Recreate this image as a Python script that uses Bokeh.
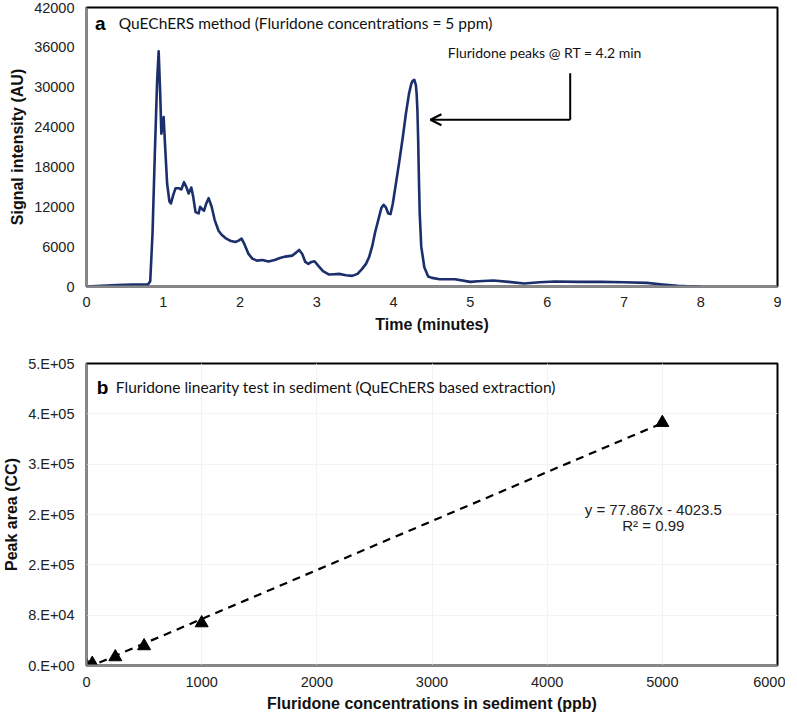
from bokeh.plotting import figure
from bokeh.layouts import column
from bokeh.models import Range1d, FixedTicker, Label, Arrow, OpenHead
from bokeh.embed import file_html
from bokeh.resources import INLINE

# ---------------- data: chromatogram (panel a) ----------------
time_min = [0.0, 0.2, 0.4, 0.6, 0.8, 0.83, 0.86, 0.89, 0.92, 0.94, 0.96, 0.975, 0.99, 1.005,
            1.02, 1.05, 1.08, 1.10, 1.13, 1.16, 1.20, 1.235, 1.27, 1.30, 1.33, 1.365, 1.39,
            1.42, 1.46, 1.48, 1.51, 1.53, 1.56, 1.59, 1.63, 1.67, 1.72, 1.76, 1.81, 1.87,
            1.94, 1.98, 2.02, 2.06, 2.11, 2.16, 2.22, 2.29, 2.37, 2.45, 2.52, 2.59, 2.68,
            2.73, 2.77, 2.81, 2.85, 2.89, 2.93, 2.97, 3.02, 3.08, 3.16, 3.22, 3.29, 3.38,
            3.46, 3.53, 3.59, 3.64, 3.68, 3.72, 3.76, 3.80, 3.84, 3.87, 3.90, 3.93, 3.96,
            3.99, 4.03, 4.07, 4.12, 4.16, 4.20, 4.23, 4.25, 4.27, 4.29, 4.30, 4.31, 4.32,
            4.33, 4.34, 4.36, 4.40, 4.45, 4.50, 4.60, 4.80, 5.00, 5.10, 5.30, 5.50, 5.70,
            5.90, 6.10, 6.40, 6.70, 7.00, 7.30, 7.50, 7.70, 7.90, 8.00]
signal_au = [0, 100, 200, 280, 300, 800, 8000, 20000, 31000, 35400, 29000, 23000, 24000, 25500,
             22000, 15500, 12800, 12500, 13800, 14800, 14800, 14600, 15700, 15000, 14000, 14900, 13500,
             11200, 11000, 12000, 11600, 11400, 12500, 13300, 12000, 10000, 8400, 7800, 7300, 6900,
             6700, 6900, 7200, 6300, 4900, 4200, 3900, 4000, 3750, 4000, 4300, 4500, 4650,
             5100, 5500, 4900, 3700, 3400, 3700, 3800, 3100, 2300, 1800, 1850, 1900, 1700,
             1600, 1900, 2650, 3400, 4400, 6000, 8200, 10000, 11800, 12300, 11900, 11000, 10900,
             12500, 15500, 18500, 22500, 26000, 29000, 30500, 31000, 31100, 30300, 29000, 26500, 22000,
             16000, 11000, 6000, 2900, 1500, 1300, 1100, 1100, 700, 800, 900, 700, 450,
             650, 750, 700, 700, 650, 550, 300, 100, 0, 0]
a_xticks = [0, 1, 2, 3, 4, 5, 6, 7, 8, 9]
a_yticks = [0, 6000, 12000, 18000, 24000, 30000, 36000, 42000]

# ---------------- data: linearity (panel b) ----------------
conc_ppb = [0, 50, 250, 500, 1000, 5000]
peak_area = [0, 3000, 13500, 31000, 67500, 386000]
fit_slope = 77.867
fit_intercept = -4023.5
fit_x = [0, 5000]
b_xticks = [0, 1000, 2000, 3000, 4000, 5000, 6000]
b_yticks = [0, 80000, 160000, 240000, 320000, 400000, 480000]
b_ytick_labels = ["0.E+00", "8.E+04", "2.E+05", "2.E+05", "3.E+05", "4.E+05", "5.E+05"]

TICK_FONT = "Liberation Sans"
NOTE_FONT = "Lato"


def style(p, xlabel, ylabel):
    p.outline_line_color = "black"
    p.outline_line_width = 2
    for ax in (p.xaxis[0], p.yaxis[0]):
        ax.axis_line_color = "#8a8a8a"
        ax.axis_line_width = 2
        ax.major_tick_out = 0
        ax.major_tick_in = 0
        ax.minor_tick_out = 0
        ax.minor_tick_in = 0
        ax.major_label_text_font = TICK_FONT
        ax.major_label_text_font_size = "14.5px"
        ax.major_label_text_color = "#222222"
        ax.axis_label_text_font = TICK_FONT
        ax.axis_label_text_font_size = "16px"
        ax.axis_label_text_font_style = "bold"
        ax.axis_label_text_color = "#111111"
    p.xaxis.axis_label = xlabel
    p.yaxis.axis_label = ylabel
    p.xaxis.major_label_standoff = 10
    p.xaxis.axis_label_standoff = 6
    p.yaxis.major_label_standoff = 12
    p.yaxis.axis_label_standoff = 5


# ---------------- panel a ----------------
p1 = figure(frame_width=691, frame_height=279, min_border_left=82, min_border_right=8,
            min_border_top=7, min_border_bottom=59,
            x_range=Range1d(0, 9), y_range=Range1d(0, 42000),
            output_backend="svg", toolbar_location=None)
style(p1, "Time (minutes)", "Signal intensity (AU)")
p1.xaxis.ticker = FixedTicker(ticks=a_xticks)
p1.yaxis.ticker = FixedTicker(ticks=a_yticks)
p1.xgrid.visible = False
p1.ygrid.visible = False
p1.line(time_min, signal_au, line_color="#1b2f6c", line_width=2.6, line_join="round")

p1.add_layout(Label(x=0.11, y=39600, text="a", text_font=TICK_FONT, text_font_style="bold",
                    text_font_size="19px", text_baseline="middle", text_color="black"))
p1.add_layout(Label(x=0.42, y=39600, text="QuEChERS method (Fluridone concentrations = 5 ppm)",
                    text_font=NOTE_FONT, text_font_size="15.5px", text_baseline="middle",
                    text_color="#111111"))
p1.add_layout(Label(x=5.97, y=35260, text="Fluridone peaks @ RT = 4.2 min",
                    text_font=NOTE_FONT, text_font_size="14px", text_baseline="middle",
                    text_align="center", text_color="#111111"))
p1.segment(x0=[6.3], y0=[32100], x1=[6.3], y1=[25100], line_color="black", line_width=2)
p1.add_layout(Arrow(end=OpenHead(size=11, line_width=2, line_color="black"),
                    x_start=6.3, y_start=25100, x_end=4.48, y_end=25100,
                    line_color="black", line_width=2))

# ---------------- panel b ----------------
p2 = figure(frame_width=691, frame_height=302, min_border_left=82, min_border_right=8,
            min_border_top=18, min_border_bottom=46,
            x_range=Range1d(0, 6000), y_range=Range1d(0, 480000),
            output_backend="svg", toolbar_location=None)
style(p2, "Fluridone concentrations in sediment (ppb)", "Peak area (CC)")
p2.xaxis.ticker = FixedTicker(ticks=b_xticks)
p2.yaxis.ticker = FixedTicker(ticks=b_yticks)
p2.yaxis.major_label_overrides = {t: s for t, s in zip(b_yticks, b_ytick_labels)}
p2.xgrid.grid_line_color = "#f3f3f3"
p2.ygrid.grid_line_color = "#f3f3f3"
p2.xaxis.major_label_standoff = 11
p2.xaxis.axis_label_standoff = 5

fit_y = [fit_slope * x + fit_intercept for x in fit_x]
p2.line(fit_x, fit_y, line_color="black", line_width=2.2, line_dash="8 6")
p2.scatter(conc_ppb, peak_area, marker="triangle", size=13, fill_color="black",
           line_color="black")

p2.add_layout(Label(x=90, y=442600, text="b", text_font=TICK_FONT, text_font_style="bold",
                    text_font_size="19px", text_baseline="middle", text_color="black"))
p2.add_layout(Label(x=255, y=442600,
                    text="Fluridone linearity test in sediment (QuEChERS based extraction)",
                    text_font=NOTE_FONT, text_font_size="15.5px", text_baseline="middle",
                    text_color="#111111"))
p2.add_layout(Label(x=4922, y=248400, text="y = 77.867x - 4023.5", text_font=TICK_FONT,
                    text_font_size="15px", text_baseline="middle", text_align="center",
                    text_color="#222222"))
p2.add_layout(Label(x=4922, y=222000, text="R² = 0.99", text_font=TICK_FONT,
                    text_font_size="15px", text_baseline="middle", text_align="center",
                    text_color="#222222"))

layout = column(p1, p2, spacing=0)
open("out.html", "w").write(file_html(layout, INLINE))
